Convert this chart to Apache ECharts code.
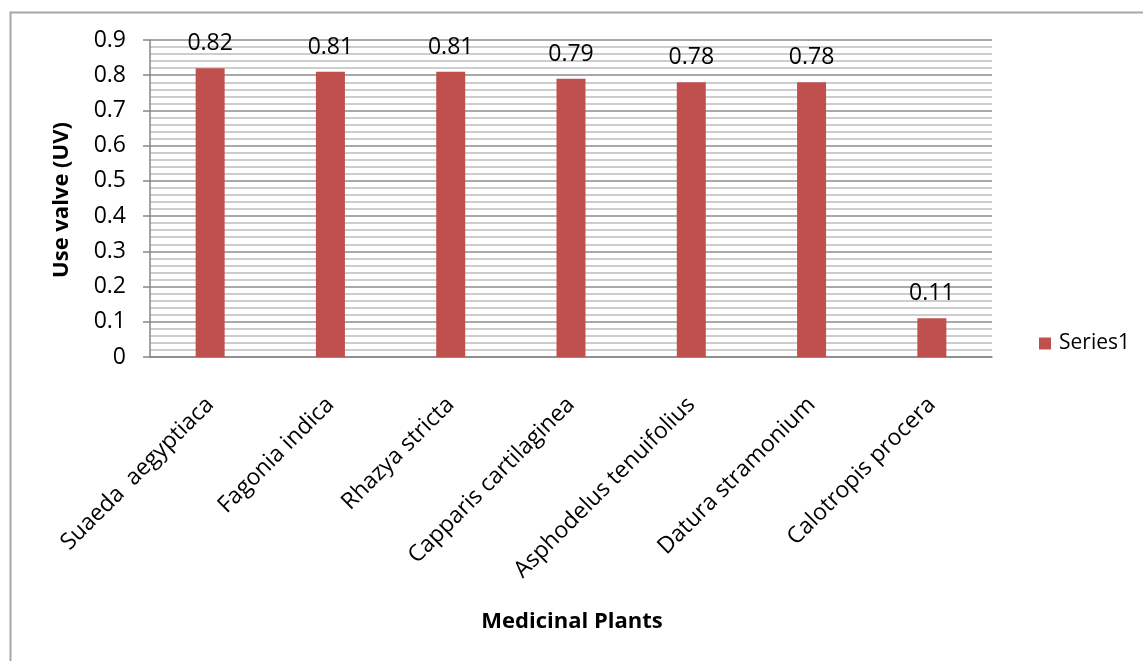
<!DOCTYPE html>
<html>
<head>
<meta charset="utf-8">
<script src="https://cdn.jsdelivr.net/npm/echarts@6/dist/echarts.min.js"></script>
<style>
  html, body { margin: 0; padding: 0; background: #ffffff; }
  #chart { width: 1143px; height: 661px; }
</style>
</head>
<body>
<div id="chart"></div>
<script>
// Use values of medicinal plants
const plants = [
  'Suaeda  aegyptiaca',
  'Fagonia indica',
  'Rhazya stricta',
  'Capparis cartilaginea',
  'Asphodelus tenuifolius',
  'Datura stramonium',
  'Calotropis procera'
];
const useValues = [0.82, 0.81, 0.81, 0.79, 0.78, 0.78, 0.11];
const seriesName = 'Series1';
const yTitle = 'Use valve (UV)';
const xTitle = 'Medicinal Plants';

const FONT = '"Open Sans", "Liberation Sans", sans-serif';
const BAR = '#C0504D';

const chart = echarts.init(document.getElementById('chart'), null, { renderer: 'canvas' });

chart.setOption({
  backgroundColor: '#ffffff',
  animation: false,
  textStyle: { fontFamily: FONT, color: '#000' },
  grid: { left: 150, right: 151, top: 40, bottom: 304, containLabel: false },
  legend: {
    data: [seriesName],
    left: 1034,
    top: 328,
    itemWidth: 12,
    itemHeight: 12,
    itemGap: 0,
    icon: 'rect',
    textStyle: { fontFamily: FONT, fontSize: 21, color: '#000', padding: [0, 0, 0, 3] }
  },
  xAxis: {
    type: 'category',
    data: plants,
    axisLine: { show: true, lineStyle: { color: '#868686', width: 1.5 } },
    axisTick: { show: false },
    axisLabel: {
      interval: 0,
      rotate: 45,
      margin: 44,
      fontFamily: FONT,
      fontSize: 23,
      color: '#000'
    },
    splitLine: { show: false }
  },
  yAxis: {
    type: 'value',
    min: 0,
    max: 0.9,
    interval: 0.1,
    axisLine: { show: true, lineStyle: { color: '#868686', width: 1.5 } },
    axisTick: { show: true, length: 7, lineStyle: { color: '#868686', width: 1.5 } },
    axisLabel: {
      margin: 24,
      fontFamily: FONT,
      fontSize: 23,
      color: '#000',
      formatter: v => (Math.round(v * 10) / 10).toString()
    },
    splitLine: { show: true, lineStyle: { color: '#8c8c8c', width: 1.5 } },
    minorTick: { show: false, splitNumber: 5 },
    minorSplitLine: { show: true, lineStyle: { color: '#bdbdbd', width: 1.5 } }
  },
  series: [{
    name: seriesName,
    type: 'bar',
    data: useValues,
    barWidth: 29,
    itemStyle: { color: BAR },
    label: {
      show: true,
      position: 'top',
      distance: 13,
      fontFamily: FONT,
      fontSize: 23,
      color: '#000',
      formatter: p => p.value.toFixed(2)
    }
  }],
  graphic: [
    {
      type: 'rect',
      left: 8, top: 10,
      shape: { x: 0, y: 0, width: 1200, height: 700 },
      style: { fill: 'none', stroke: '#a6a6a6', lineWidth: 2 },
      silent: true
    },
    {
      type: 'text',
      x: 62, y: 200,
      rotation: Math.PI / 2,
      style: {
        text: yTitle,
        fontFamily: FONT, fontSize: 22, fontWeight: 'bold',
        fill: '#000', align: 'center', verticalAlign: 'middle'
      }
    },
    {
      type: 'text',
      x: 572, y: 622,
      style: {
        text: xTitle,
        fontFamily: FONT, fontSize: 22, fontWeight: 'bold',
        fill: '#000', align: 'center', verticalAlign: 'middle'
      }
    }
  ]
});
</script>
</body>
</html>
